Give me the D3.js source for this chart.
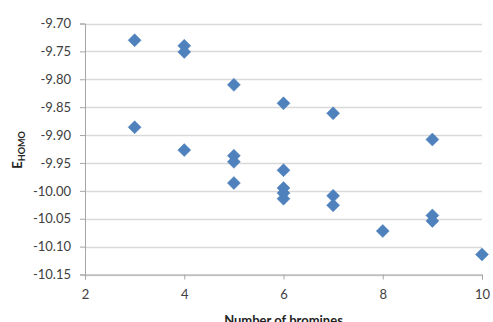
<!DOCTYPE html>
<html>
<head>
<meta charset="utf-8">
<script src="https://cdn.jsdelivr.net/npm/d3@7/dist/d3.min.js"></script>
<style>
  html, body { margin: 0; padding: 0; background: #fff; }
  svg { display: block; }
  .tick text { font-family: Lato, "Liberation Sans", sans-serif; font-size: 13px; fill: #404040; }
</style>
</head>
<body>
<div id="chart"></div>
<script>
// HOMO energy vs. number of bromine substituents
const bromines = [3, 3, 4, 4, 4, 5, 5, 5, 5, 6, 6, 6, 6, 6, 7, 7, 7, 8, 9, 9, 9, 10];
const ehomo = [-9.730, -9.886,
               -9.740, -9.751, -9.927,
               -9.810, -9.937, -9.948, -9.986,
               -9.843, -9.963, -9.995, -10.004, -10.014,
               -9.861, -10.009, -10.026,
               -10.072,
               -9.908, -10.044, -10.054,
               -10.114];
const xTicks = [2, 4, 6, 8, 10];
const yTicks = [-9.70, -9.75, -9.80, -9.85, -9.90, -9.95, -10.00, -10.05, -10.10, -10.15];

const W = 493, H = 322;
const margin = { top: 23.5, right: 11, bottom: 47.5, left: 85 };

const svg = d3.select("#chart").append("svg")
  .attr("width", W).attr("height", H);

const x = d3.scaleLinear().domain([2, 10]).range([margin.left, W - margin.right]);
const y = d3.scaleLinear().domain([-10.15, -9.70]).range([H - margin.bottom, margin.top]);

// horizontal gridlines
svg.append("g").selectAll("line").data(yTicks).join("line")
  .attr("x1", margin.left).attr("x2", W - margin.right)
  .attr("y1", d => Math.round(y(d)) + 0.5).attr("y2", d => Math.round(y(d)) + 0.5)
  .attr("stroke", "#d9d9d9").attr("stroke-width", 1.5);

// y axis
const yAxis = svg.append("g")
  .attr("transform", `translate(${margin.left},0)`)
  .call(d3.axisLeft(y).tickValues(yTicks).tickFormat(d3.format(".2f")).tickSize(5).tickPadding(9));
yAxis.select(".domain").attr("stroke", "#a6a6a6");
yAxis.selectAll(".tick line").attr("stroke", "#a6a6a6");
yAxis.selectAll(".tick text").text(d => d3.format(".2f")(d).replace("−", "-"));

// x axis
const xAxis = svg.append("g")
  .attr("transform", `translate(0,${H - margin.bottom})`)
  .call(d3.axisBottom(x).tickValues(xTicks).tickFormat(d3.format("d")).tickSize(5).tickPadding(10));
xAxis.select(".domain").attr("stroke", "#a6a6a6");
xAxis.selectAll(".tick line").attr("stroke", "#a6a6a6");

// diamond markers
const r = 6.5;
const diamond = `M0,${-r}L${r},0L0,${r}L${-r},0Z`;
svg.append("g").selectAll("path").data(bromines.map((b, i) => [b, ehomo[i]])).join("path")
  .attr("d", diamond)
  .attr("transform", d => `translate(${x(d[0])},${y(d[1])})`)
  .attr("fill", "#4f81bd")
  .attr("stroke", "#4a7ebb")
  .attr("stroke-width", 0.5);

// axis titles
svg.append("text")
  .attr("x", (margin.left + W - margin.right) / 2)
  .attr("y", 325)
  .attr("text-anchor", "middle")
  .style("font-family", "Lato, 'Liberation Sans', sans-serif")
  .style("font-size", "13px").style("font-weight", "bold").style("fill", "#222")
  .text("Number of bromines");

const yTitle = svg.append("text")
  .attr("transform", "translate(22,150) rotate(-90)")
  .attr("text-anchor", "middle")
  .style("font-family", "Lato, 'Liberation Sans', sans-serif")
  .style("font-weight", "bold").style("fill", "#222");
yTitle.append("tspan").style("font-size", "13px").text("E");
yTitle.append("tspan").style("font-size", "9px").attr("dy", "3").text("HOMO");
</script>
</body>
</html>
